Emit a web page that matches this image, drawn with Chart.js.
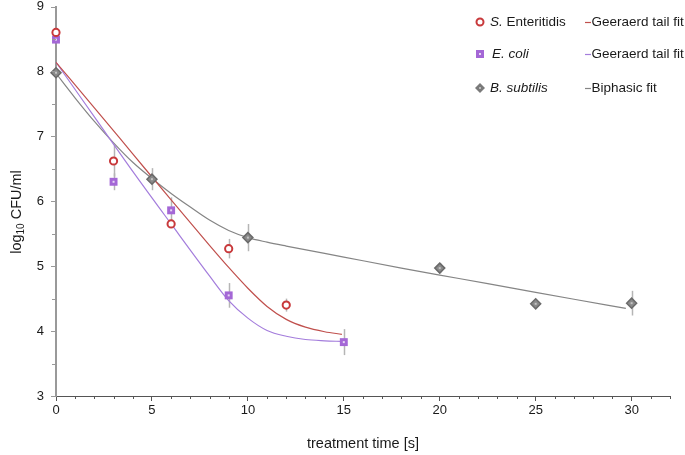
<!DOCTYPE html>
<html><head><meta charset="utf-8">
<script src="https://cdn.jsdelivr.net/npm/chart.js@4.4.1/dist/chart.umd.min.js"></script>
<style>html,body{margin:0;padding:0;background:#fff;}#wrap{width:685px;height:455px;position:relative;}</style>
</head><body><div id="wrap"><canvas id="c" width="685" height="455"></canvas></div>
<script>
// ---- data ----
const seTime = [0, 3, 6, 9, 12];
const seLog  = [8.60, 6.62, 5.65, 5.27, 4.40];
const seErr  = [0.05, 0.24, 0.06, 0.15, 0.10];

const ecTime = [0, 3, 6, 9, 15];
const ecLog  = [8.49, 6.30, 5.86, 4.55, 3.83];
const ecErr  = [0.05, 0.13, 0.20, 0.19, 0.20];

const bsTime = [0, 5, 10, 20, 25, 30];
const bsLog  = [7.98, 6.34, 5.44, 4.97, 4.42, 4.43];
const bsErr  = [0.03, 0.17, 0.21, 0.08, 0.03, 0.19];

const fitTime   = [0, 2, 4, 6, 8, 9, 10, 11, 12, 13, 14, 14.9];
const seFitLog  = [8.14, 7.44, 6.73, 6.02, 5.32, 4.98, 4.66, 4.38, 4.18, 4.06, 3.99, 3.95];
const ecFitLog  = [8.14, 7.30, 6.46, 5.65, 4.85, 4.47, 4.20, 4.01, 3.92, 3.87, 3.85, 3.84];

const bsFitTime = [0, 1, 2, 3, 4, 5, 6, 7, 8, 9, 10, 11, 12, 15, 18, 21, 24, 27, 29.7];
const bsFitLog  = [7.97, 7.59, 7.23, 6.90, 6.60, 6.35, 6.12, 5.91, 5.71, 5.55, 5.44, 5.37, 5.31, 5.14, 4.97, 4.81, 4.65, 4.49, 4.35];

const xTickLabels = ['0', '5', '10', '15', '20', '25', '30'];
const yTickLabels = ['3', '4', '5', '6', '7', '8', '9'];

const seriesNames = ['S. Enteritidis', 'E. coli', 'B. subtilis'];
const fitNames = ['Geeraerd tail fit', 'Geeraerd tail fit', 'Biphasic fit'];

const FONT = '"Liberation Sans", Arial, sans-serif';
const RED = '#c8393b', RED_LINE = '#c0504d';
const PUR = '#a467d6', PUR_LINE = '#a47ddc';
const GRY = '#7a7a7a', GRY_LINE = '#858585';

const pts = (t, v) => t.map((x, i) => ({x, y: v[i]}));

const errSets = [
  {t: seTime, v: seLog, e: seErr},
  {t: ecTime, v: ecLog, e: ecErr},
  {t: bsTime, v: bsLog, e: bsErr}
];

const errorBars = {
  id: 'errorBars',
  beforeDatasetsDraw(chart) {
    const {ctx, scales: {x, y}} = chart;
    ctx.save();
    ctx.strokeStyle = '#b5b5b5';
    ctx.lineWidth = 1.5;
    errSets.forEach(s => s.t.forEach((t, i) => {
      const px = Math.round(x.getPixelForValue(t)) + 0.5;
      ctx.beginPath();
      ctx.moveTo(px, y.getPixelForValue(s.v[i] - s.e[i]));
      ctx.lineTo(px, y.getPixelForValue(s.v[i] + s.e[i]));
      ctx.stroke();
    }));
    ctx.restore();
  },
  afterDatasetsDraw(chart) {
    const {ctx, scales: {x, y}} = chart;
    ctx.save();
    ctx.fillStyle = '#e6d6f4';
    ecTime.forEach((t, i) => ctx.fillRect(x.getPixelForValue(t) - 1, y.getPixelForValue(ecLog[i]) - 1, 2, 2));
    ctx.fillStyle = '#c4c4c4';
    bsTime.forEach((t, i) => ctx.fillRect(x.getPixelForValue(t) - 1, y.getPixelForValue(bsLog[i]) - 1, 2, 2));
    ctx.restore();
  }
};

const extras = {
  id: 'extras',
  afterDraw(chart) {
    const {ctx, scales: {x, y}, chartArea: ca} = chart;
    ctx.save();
    // minor x ticks
    ctx.strokeStyle = '#555'; ctx.lineWidth = 1;
    for (let v = 1; v <= 32; v++) {
      if (v % 5 === 0) continue;
      const px = Math.round(x.getPixelForValue(v)) + 0.5;
      ctx.beginPath(); ctx.moveTo(px, ca.bottom); ctx.lineTo(px, ca.bottom + 3); ctx.stroke();
    }
    // y ticks (major and minor)
    ctx.strokeStyle = '#999';
    for (let v = 3; v <= 9.001; v += 0.5) {
      const py = Math.round(y.getPixelForValue(v)) + 0.5;
      const len = (Math.abs(v - Math.round(v)) < 1e-6) ? 5 : 4;
      ctx.beginPath(); ctx.moveTo(ca.left - len, py); ctx.lineTo(ca.left, py); ctx.stroke();
    }
    // axis titles
    ctx.fillStyle = '#1a1a1a';
    ctx.font = '14.5px ' + FONT;
    ctx.textAlign = 'center'; ctx.textBaseline = 'middle';
    ctx.fillText('treatment time [s]', (ca.left + ca.right) / 2, 444);
    // y title with subscript
    ctx.save();
    ctx.translate(16, 212);
    ctx.rotate(-Math.PI / 2);
    const f1 = '14.5px ' + FONT, f2 = '10px ' + FONT;
    ctx.font = f1; const w1 = ctx.measureText('log').width;
    ctx.font = f2; const w2 = ctx.measureText('10').width;
    ctx.font = f1; const w3 = ctx.measureText(' CFU/ml').width;
    let sx = -(w1 + w2 + w3) / 2;
    ctx.textAlign = 'left'; ctx.textBaseline = 'alphabetic';
    ctx.font = f1; ctx.fillText('log', sx, 5); sx += w1;
    ctx.font = f2; ctx.fillText('10', sx, 8); sx += w2;
    ctx.font = f1; ctx.fillText(' CFU/ml', sx, 5);
    ctx.restore();
    // legend
    const rows = [22, 54, 88];
    const symX = 480;
    ctx.lineWidth = 2; ctx.strokeStyle = RED; ctx.fillStyle = '#fff';
    ctx.beginPath(); ctx.arc(symX, rows[0], 3.5, 0, Math.PI * 2); ctx.fill(); ctx.stroke();
    ctx.fillStyle = PUR; ctx.fillRect(symX - 4, rows[1] - 4, 8, 8);
    ctx.fillStyle = '#e8d8f5'; ctx.fillRect(symX - 1, rows[1] - 1, 2, 2);
    ctx.fillStyle = GRY;
    ctx.beginPath(); ctx.moveTo(symX, rows[2] - 5); ctx.lineTo(symX + 5, rows[2]); ctx.lineTo(symX, rows[2] + 5); ctx.lineTo(symX - 5, rows[2]); ctx.closePath(); ctx.fill();
    ctx.fillStyle = '#bbb'; ctx.fillRect(symX - 1, rows[2] - 1, 2, 2);
    ctx.fillStyle = '#1a1a1a'; ctx.textAlign = 'left'; ctx.textBaseline = 'middle';
    const fi = 'italic 13.5px ' + FONT, fn = '13.5px ' + FONT;
    ctx.font = fi; ctx.fillText('S.', 490, rows[0]);
    const ws = ctx.measureText('S.').width;
    ctx.font = fn; ctx.fillText(' Enteritidis', 490 + ws, rows[0]);
    ctx.font = fi; ctx.fillText(seriesNames[1], 492, rows[1]);
    ctx.font = fi; ctx.fillText(seriesNames[2], 490, rows[2]);
    const lineCols = [RED_LINE, PUR_LINE, GRY_LINE];
    rows.forEach((ry, i) => {
      ctx.strokeStyle = lineCols[i]; ctx.lineWidth = 1.2;
      ctx.beginPath(); ctx.moveTo(585, ry + 0.5); ctx.lineTo(591, ry + 0.5); ctx.stroke();
      ctx.fillStyle = '#1a1a1a'; ctx.font = fn;
      ctx.fillText(fitNames[i], 591.5, ry);
    });
    ctx.restore();
  }
};

Chart.defaults.font.family = FONT;

new Chart(document.getElementById('c'), {
  type: 'scatter',
  data: {
    datasets: [
      {label: 'S. Enteritidis', data: pts(seTime, seLog), order: 0, pointStyle: 'circle', pointRadius: 3.6, clip: false,
        borderColor: RED, backgroundColor: '#fff', pointBorderWidth: 2, showLine: false},
      {label: 'E. coli', data: pts(ecTime, ecLog), order: 0, pointStyle: 'rect', pointRadius: 5.6, clip: false,
        borderColor: PUR, backgroundColor: PUR, pointBorderWidth: 0, showLine: false},
      {label: 'B. subtilis', data: pts(bsTime, bsLog), order: 0, pointStyle: 'rectRot', pointRadius: 5, clip: false,
        borderColor: '#6a6a6a', backgroundColor: '#8a8a8a', pointBorderWidth: 1.5, showLine: false},
      {label: 'S fit', data: pts(fitTime, seFitLog), order: 1, showLine: true, pointRadius: 0,
        borderColor: RED_LINE, borderWidth: 1.2, cubicInterpolationMode: 'monotone'},
      {label: 'E fit', data: pts(fitTime, ecFitLog), order: 1, showLine: true, pointRadius: 0,
        borderColor: PUR_LINE, borderWidth: 1.2, cubicInterpolationMode: 'monotone'},
      {label: 'B fit', data: pts(bsFitTime, bsFitLog), order: 1, showLine: true, pointRadius: 0,
        borderColor: GRY_LINE, borderWidth: 1.2, cubicInterpolationMode: 'monotone'}
    ]
  },
  options: {
    responsive: false,
    animation: false,
    devicePixelRatio: 1,
    layout: {padding: {left: 0, right: 15, top: 0, bottom: 0}},
    plugins: {legend: {display: false}, tooltip: {enabled: false}},
    scales: {
      x: {
        type: 'linear', min: 0, max: 32,
        ticks: {stepSize: 5, includeBounds: false, color: '#1a1a1a', font: {size: 13}, padding: 2,
          maxRotation: 0, callback: (v) => xTickLabels.includes(String(v)) ? String(v) : ''},
        grid: {drawOnChartArea: false, drawTicks: true, tickLength: 5, tickColor: '#555'},
        border: {color: '#555', width: 1},
        afterFit: (s) => { s.height = 59; }
      },
      y: {
        type: 'linear', min: 3, max: 9,
        ticks: {stepSize: 1, color: '#1a1a1a', font: {size: 13, lineHeight: 1}, padding: 0,
          callback: (v) => yTickLabels.includes(String(v)) ? String(v) : ''},
        grid: {drawOnChartArea: false, drawTicks: true, tickLength: 12, tickColor: 'rgba(0,0,0,0)'},
        border: {color: '#999', width: 2},
        afterFit: (s) => { s.width = 56; }
      }
    }
  },
  plugins: [errorBars, extras]
});
</script></body></html>
